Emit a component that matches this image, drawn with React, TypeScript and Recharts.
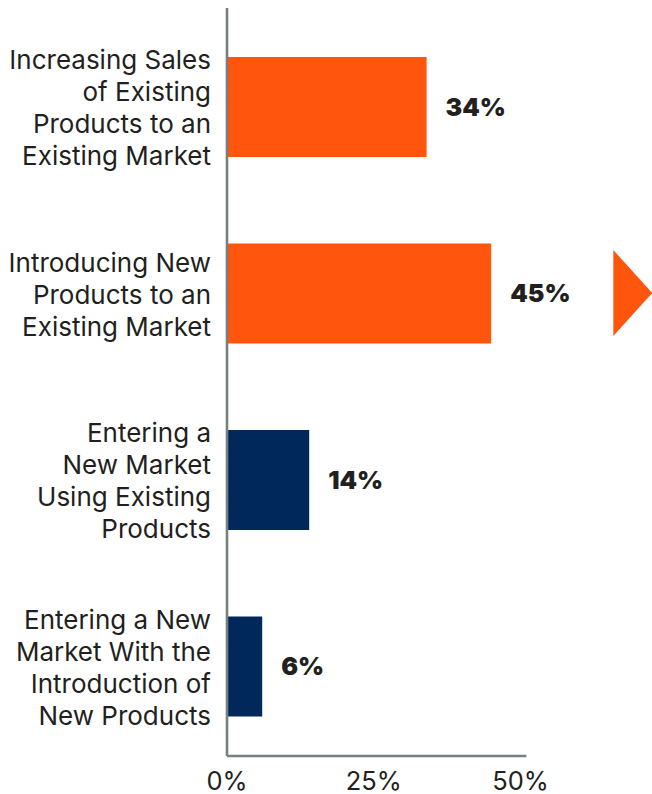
import React from 'react';
import { BarChart, Bar, XAxis, YAxis, Cell, LabelList, Customized } from 'recharts';

const categories = [
  'Increasing Sales of Existing Products to an Existing Market',
  'Introducing New Products to an Existing Market',
  'Entering a New Market Using Existing Products',
  'Entering a New Market With the Introduction of New Products',
];
const categoryLines: string[][] = [
  ['Increasing Sales', 'of Existing', 'Products to an', 'Existing Market'],
  ['Introducing New', 'Products to an', 'Existing Market'],
  ['Entering a', 'New Market', 'Using Existing', 'Products'],
  ['Entering a New', 'Market With the', 'Introduction of', 'New Products'],
];
const values = [34, 45, 14, 6];
const barColors = ['#FF550D', '#FF550D', '#00285A', '#00285A'];
const xTicks = [0, 25, 50];

const data = categories.map((c, i) => ({ name: c, value: values[i], idx: i }));

const FONT = 'Inter, "Noto Sans", sans-serif';
const TEXT = '#231F20';
const AXIS = '#767F82';

const YTick = (props: any) => {
  const { x, y, payload } = props;
  const lines = categoryLines[payload.index] || [payload.value];
  const lh = 32;
  const start = y - ((lines.length - 1) * lh) / 2;
  return (
    <text x={x} y={start} textAnchor="end" fill={TEXT} fontSize={26} fontFamily={FONT} dominantBaseline="central">
      {lines.map((l, i) => (
        <tspan key={i} x={x} y={start + i * lh} dominantBaseline="central">{l}</tspan>
      ))}
    </text>
  );
};

const XTick = (props: any) => {
  const { x, y, payload } = props;
  return (
    <text x={x} y={y + 16} textAnchor="middle" fill={TEXT} fontSize={25.5} fontFamily={FONT} dominantBaseline="central">
      {`${payload.value}%`}
    </text>
  );
};

const Arrow = () => {
  const left = 613.3;
  const cy = 293;
  return <polygon points={`${left},${cy - 43} ${left},${cy + 43} ${left + 39},${cy}`} fill="#FF550D" />;
};

export default function App() {
  return (
    <div style={{ position: 'absolute', left: 0, top: 0, width: 652, height: 794, overflow: 'hidden' }}>
      <BarChart
        width={652}
        height={794}
        data={data}
        layout="vertical"
        margin={{ top: 8, right: 125.6, bottom: 0, left: 0 }}
      >
        <XAxis
          type="number"
          domain={[0, 51]}
          ticks={xTicks}
          tickLine={false}
          axisLine={{ stroke: AXIS, strokeWidth: 2.6 }}
          height={38}
          tick={<XTick />}
          interval={0}
        />
        <YAxis
          type="category"
          dataKey="name"
          width={227}
          tickLine={false}
          axisLine={{ stroke: AXIS, strokeWidth: 2.6 }}
          tick={<YTick />}
          tickMargin={10}
          interval={0}
          padding={{ top: 6, bottom: -4 }}
        />
        <Bar dataKey="value" barSize={100} isAnimationActive={false}>
          {data.map((d, i) => (
            <Cell key={i} fill={barColors[i]} />
          ))}
          <LabelList
            dataKey="value"
            position="right"
            offset={19}
            formatter={(v: any) => `${v}%`}
            fill={TEXT}
            fontSize={25}
            fontWeight={900}
            fontFamily={FONT}
          />
        </Bar>
        <Customized component={Arrow} />
      </BarChart>
    </div>
  );
}
